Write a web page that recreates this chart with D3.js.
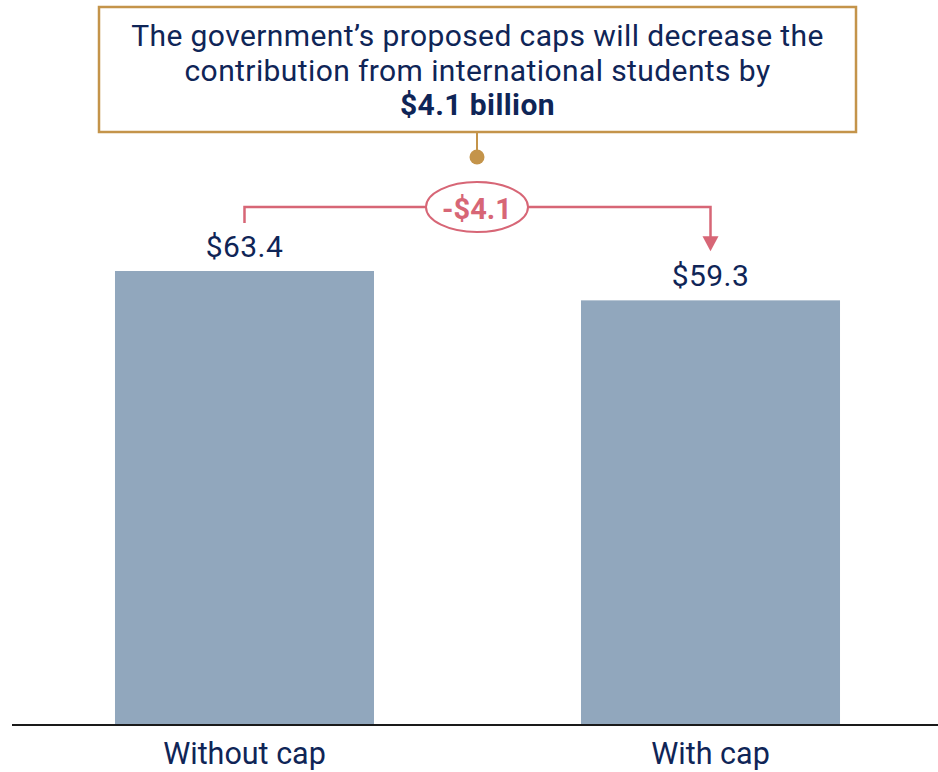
<!DOCTYPE html>
<html>
<head>
<meta charset="utf-8">
<script src="https://cdn.jsdelivr.net/npm/d3@7"></script>
<style>
  html, body { margin: 0; padding: 0; background: #fff; }
  svg { display: block; }
  text { font-family: Roboto, "Noto Sans", sans-serif; }
</style>
</head>
<body>
<svg id="chart" width="938" height="772"></svg>
<script>
// Chart data
const categories = ["Without cap", "With cap"];
const values = [63.4, 59.3];
const valueLabels = ["$63.4", "$59.3"];
const changeLabel = "-$4.1";
const headlineLines = [
  "The government\u2019s proposed caps will decrease the",
  "contribution from international students by"
];
const headlineEmphasis = "$4.1 billion";

const W = 938, H = 772;
const navy = "#0f2557";
const barColor = "#91a7bd";
const gold = "#c4944a";
const red = "#d76676";

const svg = d3.select("#chart");

const x = d3.scaleBand()
  .domain(categories)
  .range([12, 943])
  .paddingInner(0.4442)
  .paddingOuter(0.221);

const y = d3.scaleLinear()
  .domain([0, 63.4])
  .range([725, 271]);

// Bars
svg.append("g").selectAll("rect")
  .data(values)
  .join("rect")
  .attr("x", (d, i) => x(categories[i]))
  .attr("y", d => y(d))
  .attr("width", x.bandwidth())
  .attr("height", d => y(0) - y(d))
  .attr("fill", barColor);

// Baseline axis with category labels
const xAxis = d3.axisBottom(x).tickSize(0).tickPadding(0);
const gx = svg.append("g")
  .attr("transform", `translate(0,${y(0)})`)
  .call(xAxis);
gx.select(".domain")
  .attr("d", `M12,0H${W}`)
  .attr("stroke", "#1a1a1a")
  .attr("stroke-width", 2);
gx.selectAll(".tick text")
  .attr("dy", null)
  .attr("y", 39)
  .attr("fill", navy)
  .attr("font-size", 30.5)
  .attr("font-family", "Roboto, sans-serif");

// Value labels
svg.append("g").selectAll("text")
  .data(values)
  .join("text")
  .attr("x", (d, i) => x(categories[i]) + x.bandwidth() / 2)
  .attr("y", d => y(d) - 14)
  .attr("text-anchor", "middle")
  .attr("fill", navy)
  .attr("font-size", 30)
  .attr("letter-spacing", 0.4)
  .text((d, i) => valueLabels[i]);

// Headline box
const box = { x: 99, y: 7, w: 757, h: 125 };
svg.append("rect")
  .attr("x", box.x).attr("y", box.y)
  .attr("width", box.w).attr("height", box.h)
  .attr("fill", "#fff")
  .attr("stroke", gold)
  .attr("stroke-width", 2.5);

const cx = box.x + box.w / 2;
const head = svg.append("g")
  .attr("fill", navy)
  .attr("text-anchor", "middle")
  .attr("font-size", 30)
  .attr("letter-spacing", 0.4);
headlineLines.forEach((line, i) => {
  head.append("text")
    .attr("x", cx)
    .attr("y", 46 + i * 34.5)
    .text(line);
});
head.append("text")
  .attr("x", cx)
  .attr("y", 115)
  .attr("font-weight", 700)
  .text(headlineEmphasis);

// Connector from the box to the change annotation
const midX = 477;
svg.append("line")
  .attr("x1", midX).attr("x2", midX)
  .attr("y1", box.y + box.h).attr("y2", 157)
  .attr("stroke", gold).attr("stroke-width", 2);
svg.append("circle")
  .attr("cx", midX).attr("cy", 157).attr("r", 7.5)
  .attr("fill", gold);

// Difference bracket between the bars
const x0 = x(categories[0]) + x.bandwidth() / 2;
const x1 = x(categories[1]) + x.bandwidth() / 2;
const bracketY = 207;
const ell = { rx: 51, ry: 25 };
const arrowTip = y(values[1]) - 49;
const bracket = svg.append("g")
  .attr("fill", "none").attr("stroke", red).attr("stroke-width", 2.5);
bracket.append("path")
  .attr("d", `M${x0},${bracketY + 16}V${bracketY}H${midX - ell.rx}`);
bracket.append("path")
  .attr("d", `M${midX + ell.rx},${bracketY}H${x1}V${arrowTip - 14}`);
svg.append("path")
  .attr("d", `M${x1 - 8},${arrowTip - 15}L${x1 + 8},${arrowTip - 15}L${x1},${arrowTip}Z`)
  .attr("fill", red);
svg.append("ellipse")
  .attr("cx", midX).attr("cy", bracketY)
  .attr("rx", ell.rx).attr("ry", ell.ry)
  .attr("fill", "#fff")
  .attr("stroke", red).attr("stroke-width", 2);
svg.append("text")
  .attr("x", midX).attr("y", bracketY + 12)
  .attr("text-anchor", "middle")
  .attr("fill", red)
  .attr("font-size", 29)
  .attr("font-weight", 700)
  .text(changeLabel);
</script>
</body>
</html>
